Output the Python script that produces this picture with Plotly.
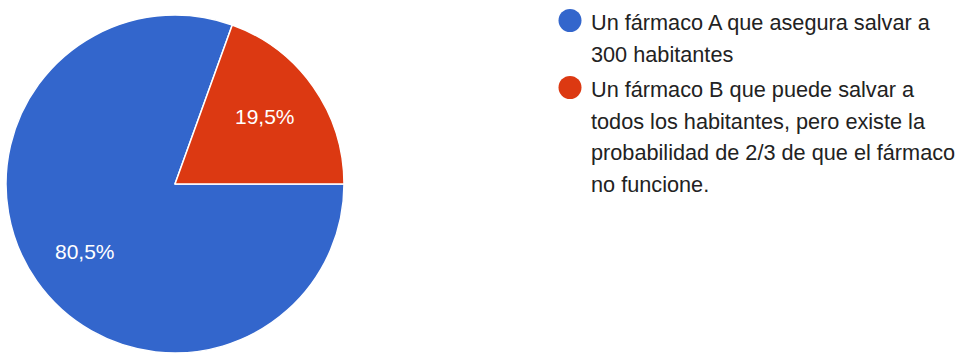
import math
import plotly.graph_objects as go

# Survey answers and their share of responses (%)
categories = [
    "Un fármaco A que asegura salvar a 300 habitantes",
    "Un fármaco B que puede salvar a todos los habitantes, pero existe la probabilidad de 2/3 de que el fármaco no funcione.",
]
shares = [80.5, 19.5]
colors = ["#3366cc", "#dc3912"]

# Legend text as it wraps next to each swatch
legend_lines = [
    ["Un fármaco A que asegura salvar a", "300 habitantes"],
    ["Un fármaco B que puede salvar a", "todos los habitantes, pero existe la",
     "probabilidad de 2/3 de que el fármaco", "no funcione."],
]

W, H = 967, 360
FONT = "Arial, Liberation Sans, sans-serif"

# Pie geometry in pixels
cx, cy, R = 175, 184, 169
start_deg = 90  # first slice starts at 3 o'clock, going clockwise


def px(x):
    return x / W


def py(y):
    return 1 - y / H


fig = go.Figure(
    go.Pie(
        labels=categories,
        values=shares,
        sort=False,
        direction="clockwise",
        rotation=start_deg,
        marker=dict(colors=colors, line=dict(color="white", width=1.5)),
        textinfo="none",
        hoverinfo="label+percent",
        showlegend=False,
        domain=dict(x=[px(cx - R), px(cx + R)], y=[py(cy + R), py(cy - R)]),
    )
)

annotations = []
shapes = []

# Percentage labels placed along each slice's middle angle
total = sum(shares)
angle = start_deg
for v in shares:
    span = 360 * v / total
    mid = math.radians(angle + span / 2)
    lx = cx + 110 * math.sin(mid)
    ly = cy - 118 * math.cos(mid)
    annotations.append(dict(
        x=px(lx), y=py(ly), xref="paper", yref="paper",
        text=f"{v:.1f}%".replace(".", ","), showarrow=False,
        xanchor="center", yanchor="middle",
        font=dict(family=FONT, size=21, color="white"),
    ))
    angle += span

# Legend: round swatch plus wrapped text lines
item_tops = [22.5, 89.5]
line_gap = 31.5
for i, lines in enumerate(legend_lines):
    top = item_tops[i]
    r = 11.5
    shapes.append(dict(
        type="circle", xref="paper", yref="paper",
        x0=px(570 - r), x1=px(570 + r), y0=py(top - 2 + r), y1=py(top - 2 - r),
        fillcolor=colors[i], line=dict(width=0),
    ))
    for j, line in enumerate(lines):
        annotations.append(dict(
            x=px(589), y=py(top + j * line_gap), xref="paper", yref="paper",
            text=line, showarrow=False, xanchor="left", yanchor="middle",
            font=dict(family=FONT, size=21.7, color="#222222"),
        ))

fig.update_layout(
    width=W, height=H,
    margin=dict(l=0, r=0, t=0, b=0),
    paper_bgcolor="white", plot_bgcolor="white",
    annotations=annotations, shapes=shapes,
    separators=",.",
)

fig.write_html("out.html")
